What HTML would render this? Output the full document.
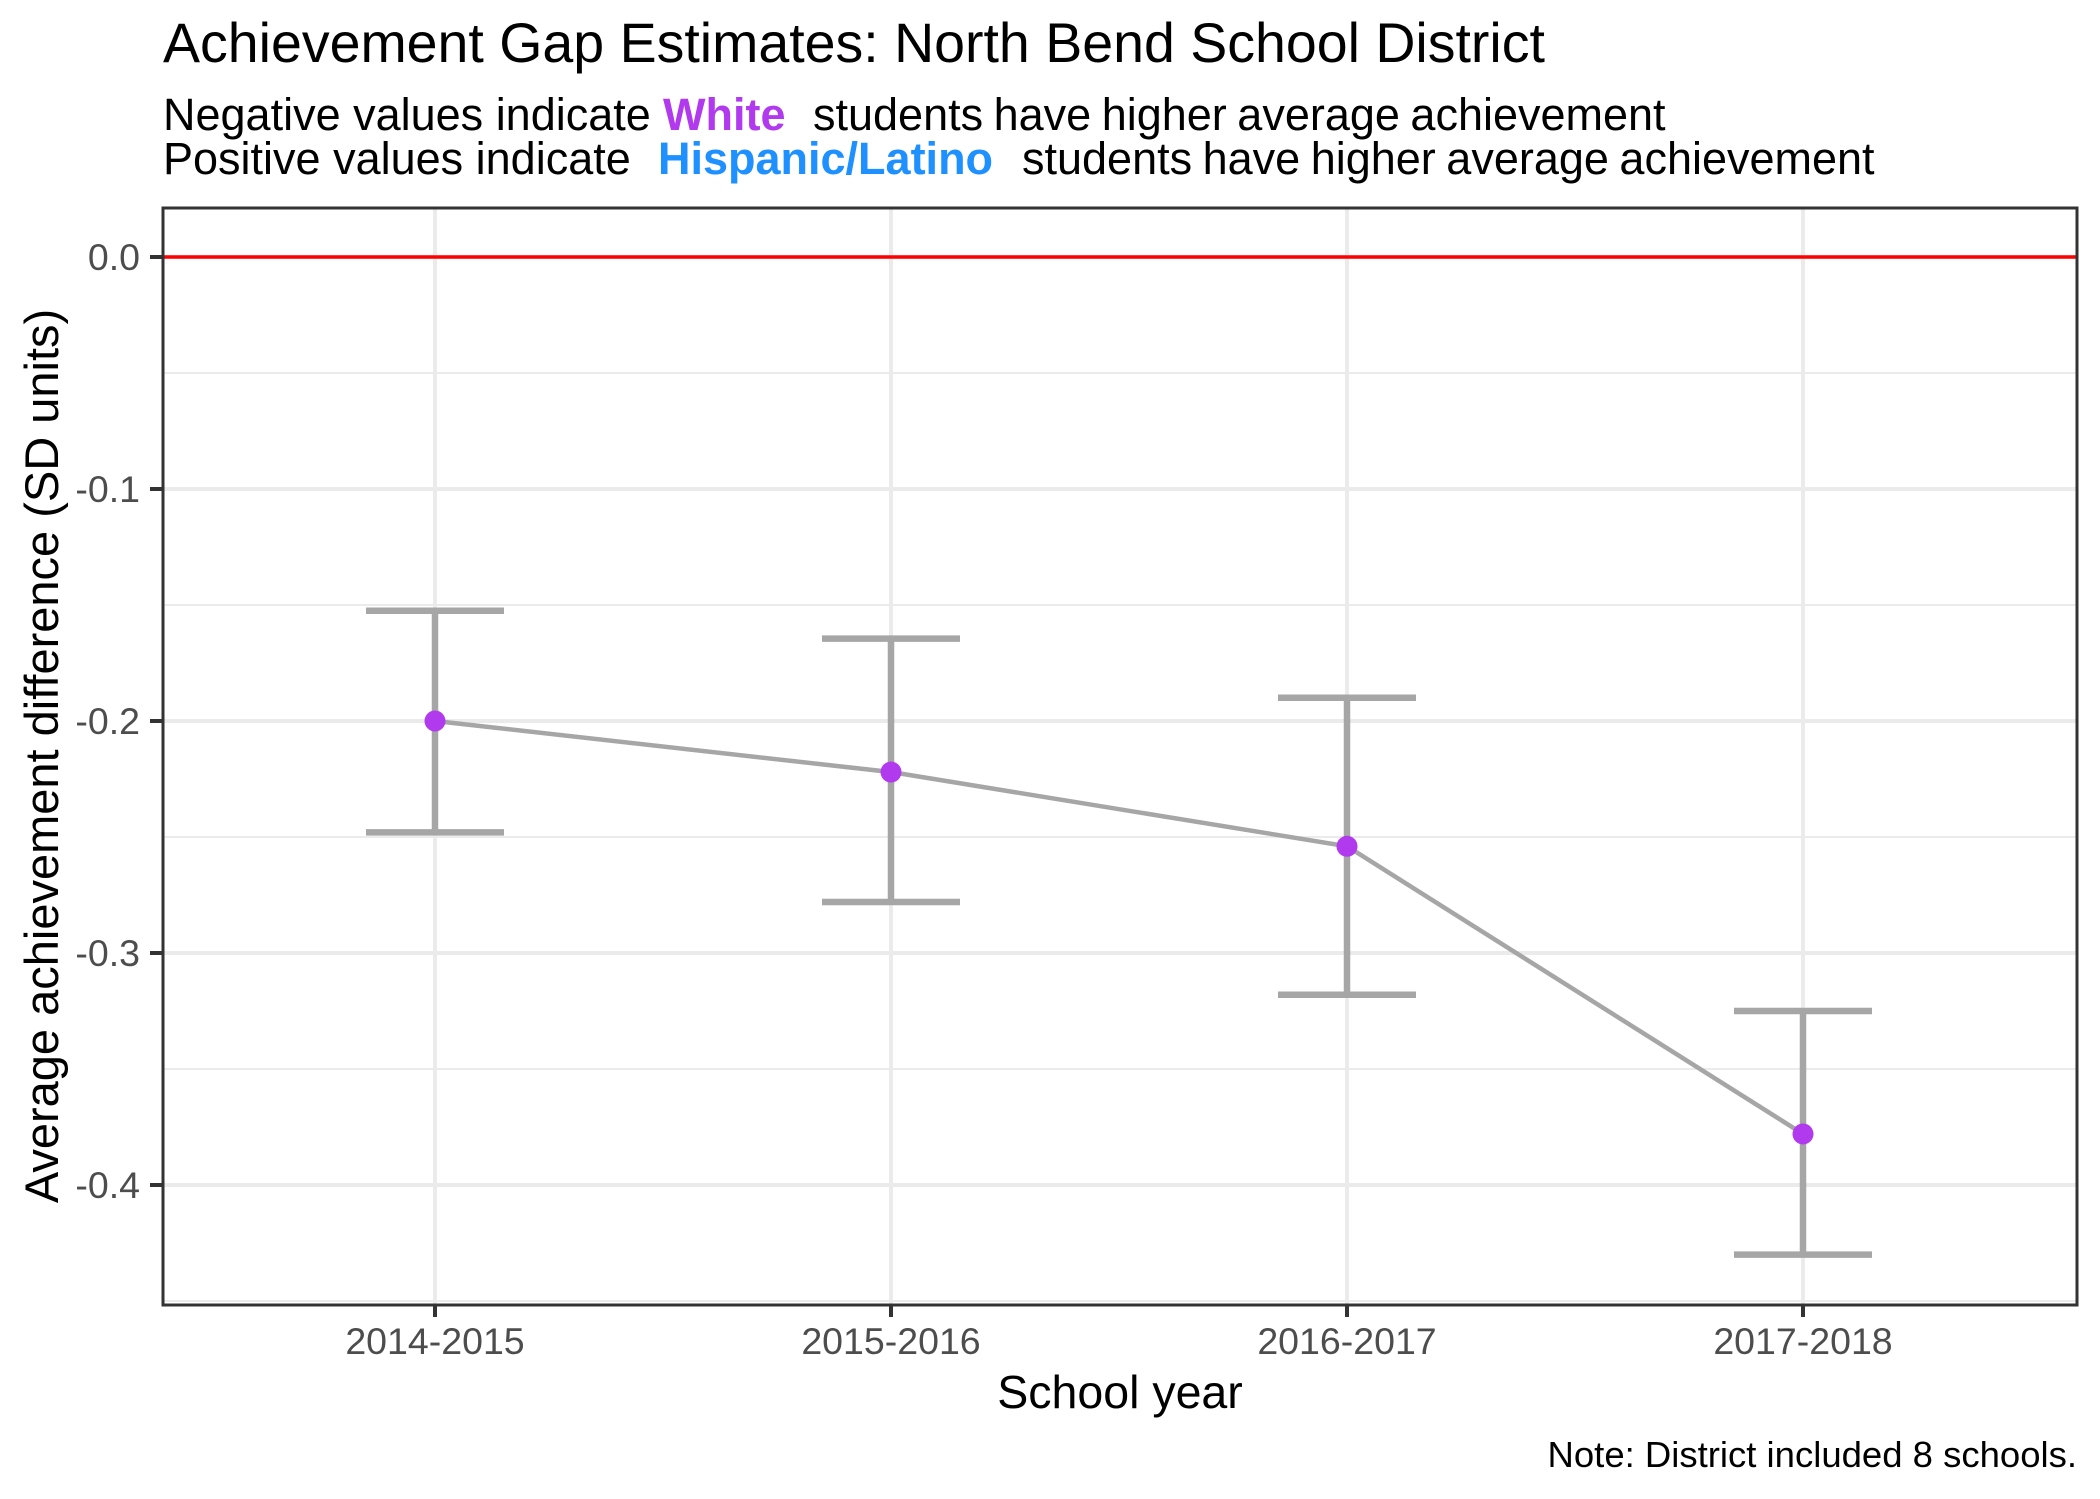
<!DOCTYPE html>
<html><head><meta charset="utf-8"><style>
html,body{margin:0;padding:0;background:#fff;}
svg{display:block;font-family:"Liberation Sans",Arial,sans-serif;}
</style></head><body>
<svg id="chart" width="2100" height="1499" viewBox="0 0 2100 1499">
<rect width="2100" height="1499" fill="#fff"/>
<text x="163" y="62" font-size="55.5" fill="#000">Achievement Gap Estimates: North Bend School District</text>
<text y="130" font-size="45" fill="#000"><tspan x="163">Negative values indicate</tspan><tspan x="663" font-weight="bold" fill="#B23AEE">White</tspan><tspan x="813" word-spacing="-2">students have higher average achievement</tspan></text>
<text y="174" font-size="45" fill="#000"><tspan x="163">Positive values indicate</tspan><tspan x="658" font-weight="bold" fill="#1E90FF">Hispanic/Latino</tspan><tspan x="1022" word-spacing="-2">students have higher average achievement</tspan></text>
<g id="grid"></g>
<g id="marks"></g>
<rect x="163" y="208" width="1914" height="1097" fill="none" stroke="#333" stroke-width="3"/>
<g id="axes"></g>
<text x="1120" y="1408" font-size="46.5" text-anchor="middle" fill="#000">School year</text>
<text transform="translate(58,756) rotate(-90)" font-size="47" text-anchor="middle" fill="#000">Average achievement difference (SD units)</text>
<text x="2077" y="1467" font-size="36.5" text-anchor="end" fill="#000">Note: District included 8 schools.</text>
</svg>
<script>
const categories = ["2014-2015","2015-2016","2016-2017","2017-2018"];
const estimates = [-0.200,-0.222,-0.254,-0.378];
const upperCI = [-0.1525,-0.1645,-0.190,-0.325];
const lowerCI = [-0.248,-0.278,-0.318,-0.430];
const yTicks = [0.0,-0.1,-0.2,-0.3,-0.4];
const yTickLabels = ["0.0","-0.1","-0.2","-0.3","-0.4"];

const NS="http://www.w3.org/2000/svg";
const L=163,R=2077,T=208,B=1305;
function xs(i){return 435 + i*456;}
function ys(v){return 257 - v*2320;}
function mk(tag,attrs,parent){const e=document.createElementNS(NS,tag);for(const k in attrs)e.setAttribute(k,attrs[k]);parent.appendChild(e);return e;}
const grid=document.getElementById('grid'),marks=document.getElementById('marks'),axes=document.getElementById('axes');
for(let i=0;i<yTicks.length;i++){
  const v=yTicks[i]-0.05; const y=ys(v);
  if(y>T&&y<B){const g=mk('line',{x1:L,x2:R,y1:y,y2:y,stroke:'#ebebeb','stroke-width':2},grid);
  
  }
}
yTicks.forEach((v,i)=>{
  const y=ys(v);
  const g=mk('line',{x1:L,x2:R,y1:y,y2:y,stroke:'#ebebeb','stroke-width':4},grid);
  
  
  const t=mk('line',{x1:150,x2:L,y1:y,y2:y,stroke:'#333','stroke-width':4},axes);
  
  
  const lb=mk('text',{x:140,y:y+13,'font-size':37.5,'text-anchor':'end',fill:'#4d4d4d'},axes);
  lb.textContent=yTickLabels[i];
  
  
});
categories.forEach((c,i)=>{
  const x=xs(i);
  const g=mk('line',{x1:x,x2:x,y1:T,y2:B,stroke:'#ebebeb','stroke-width':4},grid);
  
  
  const t=mk('line',{x1:x,x2:x,y1:B,y2:B+12,stroke:'#333','stroke-width':4},axes);
  
  
  const lb=mk('text',{x:x,y:1354,'font-size':37.5,'text-anchor':'middle',fill:'#4d4d4d'},axes);
  lb.textContent=c;
  
  
});
const zero=mk('line',{x1:L,x2:R,y1:ys(0),y2:ys(0),stroke:'#ff0000','stroke-width':3.5},marks);


categories.forEach((c,i)=>{
  const x=xs(i),yu=ys(upperCI[i]),yl=ys(lowerCI[i]);
  const eb=mk('path',{d:`M${x-69},${yu}H${x+69}M${x},${yu}V${yl}M${x-69},${yl}H${x+69}`,stroke:'#a6a6a6','stroke-width':6.5,fill:'none'},marks);
  
  
});
const pl=mk('polyline',{points:estimates.map((v,i)=>xs(i)+','+ys(v)).join(' '),stroke:'#a6a6a6','stroke-width':4.5,fill:'none'},marks);


estimates.forEach((v,i)=>{
  const p=mk('circle',{cx:xs(i),cy:ys(v),r:10.5,fill:'#B23AEE'},marks);
  
  
});
</script>
</body></html>
